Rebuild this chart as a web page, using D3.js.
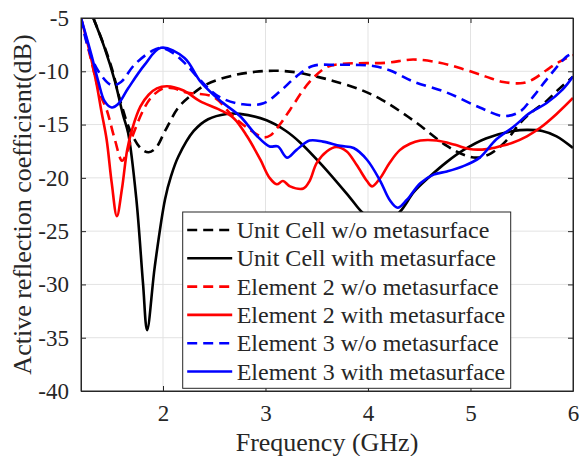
<!DOCTYPE html>
<html>
<head>
<meta charset="utf-8">
<script src="https://cdn.jsdelivr.net/npm/d3@7/dist/d3.min.js"></script>
<style>
    body { margin: 0; background: #fff; }
    text { font-family: "Liberation Serif", "Times New Roman", serif; fill: #262626; }
</style>
</head>
<body>
<div id="chart"></div>
<script>
// Frequency ticks and dB ticks
var xTicks = [2, 3, 4, 5, 6];
var yTicks = [-40, -35, -30, -25, -20, -15, -10, -5];

// Series: [frequency (GHz), active reflection coefficient (dB)]
var unitCellWo = [[1.32,-5],[1.41,-7.2],[1.5,-9.7],[1.59,-13.0],[1.69,-15.8],[1.79,-17.3],[1.86,-17.6],[1.93,-17.2],[2.02,-15.6],[2.15,-13.4],[2.28,-12.2],[2.43,-11.2],[2.68,-10.4],[2.9,-10.05],[3.1,-9.95],[3.3,-10.1],[3.5,-10.5],[3.66,-10.9],[3.92,-11.7],[4.14,-12.7],[4.44,-14.6],[4.77,-17.0],[4.95,-17.9],[5.07,-18.1],[5.2,-17.7],[5.35,-16.5],[5.48,-14.9],[5.6,-13.8],[5.74,-12.8],[5.87,-11.6],[6.0,-10.5]];
var unitCellWith = [[1.32,-5],[1.43,-7.8],[1.53,-10.9],[1.61,-14.1],[1.66,-15.8],[1.74,-22],[1.805,-29.9],[1.845,-34.3],[1.92,-28.3],[2.02,-22],[2.08,-19.8],[2.15,-18],[2.3,-15.6],[2.44,-14.5],[2.62,-14.0],[2.75,-14.0],[3.01,-14.6],[3.2,-15.6],[3.34,-16.7],[3.56,-18.9],[3.82,-21.8],[3.95,-23.3],[4.13,-24.5],[4.31,-23.2],[4.45,-21.3],[4.6,-19.9],[4.77,-18.5],[4.93,-17.4],[5.15,-16.3],[5.42,-15.6],[5.55,-15.5],[5.7,-15.6],[5.84,-16.1],[6.0,-17.2]];
var element2Wo = [[1.2,-5],[1.3,-9],[1.38,-12],[1.45,-13.6],[1.53,-16.4],[1.6,-18.4],[1.64,-17.8],[1.69,-16.4],[1.81,-13.6],[1.89,-12.4],[2.0,-11.6],[2.1,-11.6],[2.23,-12],[2.49,-12.4],[2.68,-14.2],[2.85,-15.5],[2.98,-16.2],[3.05,-16.0],[3.14,-15.0],[3.24,-13.6],[3.43,-11],[3.6,-9.6],[3.75,-9.3],[4.18,-9.2],[4.44,-8.9],[4.7,-9.2],[4.93,-9.8],[5.15,-10.5],[5.32,-11],[5.51,-11.1],[5.62,-10.7],[5.74,-9.9],[5.87,-9.1],[6.0,-8.5]];
var element2With = [[1.2,-5],[1.28,-8],[1.35,-11.1],[1.4,-13.8],[1.45,-16.4],[1.5,-20.5],[1.55,-23.6],[1.6,-21],[1.65,-17.4],[1.7,-15.4],[1.78,-13.3],[1.86,-12.2],[1.94,-11.6],[2.04,-11.4],[2.2,-11.8],[2.36,-12.8],[2.55,-13.6],[2.69,-14.4],[2.82,-16.1],[2.95,-18.3],[3.04,-20.0],[3.11,-20.6],[3.17,-20.3],[3.24,-20.8],[3.37,-21.0],[3.43,-20.3],[3.5,-18.6],[3.6,-17.5],[3.69,-17.1],[3.79,-17.5],[3.89,-18.8],[3.99,-20.3],[4.04,-20.8],[4.12,-20.0],[4.21,-18.6],[4.31,-17.4],[4.41,-16.8],[4.51,-16.5],[4.67,-16.5],[4.85,-16.9],[4.99,-17.3],[5.16,-17.3],[5.3,-17.0],[5.41,-16.7],[5.55,-16.1],[5.68,-15.3],[5.84,-14.0],[6.0,-12.5]];
var element3Wo = [[1.2,-5],[1.27,-7.8],[1.37,-10],[1.5,-11.3],[1.59,-11],[1.72,-9.4],[1.89,-8.1],[1.98,-7.8],[2.1,-8.3],[2.22,-9.3],[2.36,-10.8],[2.55,-12.4],[2.78,-13.1],[2.98,-13],[3.14,-11.9],[3.3,-10.5],[3.46,-9.5],[3.69,-9.4],[3.88,-9.4],[4.05,-9.5],[4.21,-9.9],[4.44,-10.95],[4.77,-12],[5.09,-13.4],[5.32,-14.2],[5.48,-13.8],[5.61,-12.4],[5.74,-10.8],[5.94,-8.6],[6.0,-8.3]];
var element3With = [[1.2,-5],[1.3,-8.4],[1.37,-11],[1.43,-12.8],[1.5,-13.4],[1.56,-13.1],[1.66,-11.6],[1.82,-9.4],[1.98,-7.8],[2.21,-8.75],[2.36,-10.9],[2.55,-12.7],[2.75,-14.2],[2.91,-16],[3.04,-17.05],[3.12,-17.05],[3.21,-18.1],[3.3,-17.4],[3.43,-16.5],[3.56,-16.6],[3.73,-17],[3.86,-17.2],[3.99,-18.3],[4.12,-20.3],[4.21,-22.05],[4.29,-22.8],[4.38,-22.05],[4.51,-20.5],[4.64,-19.7],[4.77,-19.4],[4.93,-18.9],[5.09,-18.1],[5.25,-16.4],[5.42,-15.2],[5.58,-13.9],[5.74,-13],[5.9,-11.7],[6.0,-10.5]];

var seriesNames = ["Unit Cell w/o metasurface", "Unit Cell with metasurface",
    "Element 2 w/o metasurface", "Element 2 with metasurface",
    "Element 3 w/o metasurface", "Element 3 with metasurface"];
var seriesColors = ["#000000", "#000000", "#ff0000", "#ff0000", "#0000ff", "#0000ff"];
var seriesDashed = [true, false, true, false, true, false];
var seriesData = [unitCellWo, unitCellWith, element2Wo, element2With, element3Wo, element3With];

(function() {
    var W = 579, H = 456;
    var margin = { top: 18, left: 81, right: 6, bottom: 65 },
    width = W - margin.left - margin.right,
    height = H - margin.top - margin.bottom;

    var serif = "Liberation Serif, Times New Roman, serif";

    var svg = d3.select("#chart")
        .append("svg")
        .attr("width", W)
        .attr("height", H)
        .append("g")
        .attr("transform", "translate(" + margin.left + "," + margin.top + ")");

    var x = d3.scaleLinear().domain([1.2, 6]).range([0, width]);
    var y = d3.scaleLinear().domain([-40, -5]).range([height, 0]);

    // Grid lines
    svg.append("g").selectAll("line")
        .data(xTicks.slice(0, -1))
        .enter().append("line")
        .attr("x1", function(d) { return x(d); })
        .attr("x2", function(d) { return x(d); })
        .attr("y1", 0).attr("y2", height)
        .attr("stroke", "#e3e3e3").attr("stroke-width", 1);

    svg.append("g").selectAll("line")
        .data(yTicks.slice(1, -1))
        .enter().append("line")
        .attr("y1", function(d) { return y(d); })
        .attr("y2", function(d) { return y(d); })
        .attr("x1", 0).attr("x2", width)
        .attr("stroke", "#e3e3e3").attr("stroke-width", 1);

    // Curves
    svg.append("clipPath").attr("id", "clip")
        .append("rect").attr("width", width).attr("height", height);

    var line = d3.line()
        .x(function(d) { return x(d[0]); })
        .y(function(d) { return y(d[1]); })
        .curve(d3.curveCatmullRom.alpha(0.5));

    svg.append("g").attr("clip-path", "url(#clip)")
        .selectAll("path")
        .data(seriesData)
        .enter().append("path")
        .attr("d", line)
        .attr("fill", "none")
        .attr("stroke", function(d, i) { return seriesColors[i]; })
        .attr("stroke-width", 2.6)
        .attr("stroke-dasharray", function(d, i) { return seriesDashed[i] ? "10,6" : null; });

    // Axes (MATLAB style box with inward ticks), plain hyphen for minus
    var tick = 5;
    var fmt = function(d) { return String(d); };
    var xAxisBottom = d3.axisBottom(x).tickValues(xTicks).tickFormat(fmt).tickSizeInner(-tick).tickSizeOuter(0).tickPadding(14);
    var xAxisTop = d3.axisTop(x).tickValues(xTicks).tickSizeInner(-tick).tickSizeOuter(0).tickFormat("");
    var yAxisLeft = d3.axisLeft(y).tickValues(yTicks).tickFormat(fmt).tickSizeInner(-tick).tickSizeOuter(0).tickPadding(12);
    var yAxisRight = d3.axisRight(y).tickValues(yTicks).tickSizeInner(-tick).tickSizeOuter(0).tickFormat("");

    svg.append("g").attr("transform", "translate(0," + height + ")").call(xAxisBottom);
    svg.append("g").call(xAxisTop);
    svg.append("g").call(yAxisLeft);
    svg.append("g").attr("transform", "translate(" + width + ",0)").call(yAxisRight);

    svg.selectAll(".domain").attr("stroke", "#262626");
    svg.selectAll(".tick line").attr("stroke", "#262626");
    svg.selectAll(".tick text")
        .attr("font-family", serif)
        .style("font-family", serif)
        .style("font-size", "23px")
        .attr("fill", "#262626");

    // Axis box edges
    svg.append("rect")
        .attr("width", width).attr("height", height)
        .attr("fill", "none").attr("stroke", "#262626").attr("stroke-width", 1);

    // Axis labels
    svg.append("text")
        .attr("x", width / 2)
        .attr("y", height + 60)
        .attr("text-anchor", "middle")
        .style("font-size", "26px")
        .text("Frequency (GHz)");

    svg.append("text")
        .attr("transform", "rotate(-90)")
        .attr("x", -height / 2)
        .attr("y", -margin.left + 31)
        .attr("text-anchor", "middle")
        .style("font-size", "26px")
        .text("Active reflection coefficient(dB)");

    // Legend
    var lg = svg.append("g").attr("transform", "translate(" + (182.7 - margin.left) + "," + (212 - margin.top) + ")");
    lg.append("rect")
        .attr("width", 328).attr("height", 176.3)
        .attr("fill", "#fff").attr("stroke", "#262626").attr("stroke-width", 1);

    var rowH = 28.3;
    var items = lg.selectAll("g")
        .data(seriesNames)
        .enter().append("g")
        .attr("transform", function(d, i) { return "translate(0," + (18 + i * rowH) + ")"; });

    items.append("line")
        .attr("x1", 4.5).attr("x2", 49.5)
        .attr("y1", 0).attr("y2", 0)
        .attr("stroke", function(d, i) { return seriesColors[i]; })
        .attr("stroke-width", 2.6)
        .attr("stroke-dasharray", function(d, i) { return seriesDashed[i] ? "10,6" : null; });

    items.append("text")
        .attr("x", 54)
        .attr("y", 8)
        .style("font-size", "24px")
        .attr("fill", "#000")
        .text(function(d) { return d; });
})();
</script>
</body>
</html>
